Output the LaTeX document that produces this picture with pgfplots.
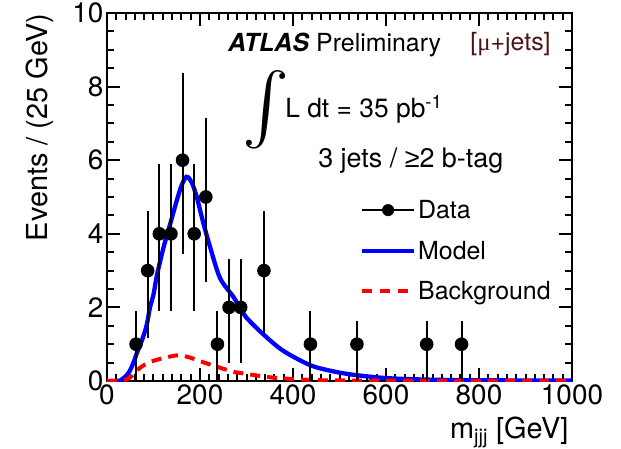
\documentclass[border=0pt]{standalone}
\usepackage{graphicx}
\usepackage{pgfplots}
\usepackage{pgfplotstable}
\pgfplotsset{compat=1.18}
\usepackage{fontspec}
\setmainfont{TeX Gyre Heros}
\newfontfamily\libsans{Liberation Sans}
\newfontfamily\libserif{Liberation Serif}
\definecolor{atlasblue}{RGB}{0,0,255}
\definecolor{atlasred}{RGB}{255,0,0}
\definecolor{chanbrown}{RGB}{77,20,20}

\pgfplotstableread{
x y ep em
62.5 1 0.9 1
87.5 3 1.63 1.82
112.5 4 1.9 2.1
137.5 4 1.9 2.1
162.5 6 2.37 2.55
187.5 4 1.9 2.1
212.5 5 2.16 2.32
237.5 1 0.9 1
262.5 2 1.31 1.5
287.5 2 1.31 1.5
337.5 3 1.63 1.73
437.5 1 0.9 1
537.5 1 0.63 1
687.5 1 0.63 1
762.5 1 0.63 1
}\datatab

\pgfplotstableread{
x y
0 0
20 0.0
28 0.01
42 0.15
50 0.3
57 0.5
64 0.75
75 1.1
85 1.5
92.5 2.0
100 2.35
107 2.85
121 3.6
135.5 4.25
150 4.9
160 5.3
171 5.55
182 5.4
193 5.0
207 4.3
221.5 3.65
243 2.8
271 2.3
286 2.0
300 1.72
336 1.27
379 0.82
437 0.43
480 0.28
523 0.18
580 0.1
630 0.06
700 0.035
800 0.02
1000 0.01
}\modeltab

\pgfplotstableread{
x y
0 0
30 0.01
49 0.09
71 0.36
90 0.5
114 0.6
153 0.7
180 0.63
200 0.54
243 0.36
272 0.25
286 0.22
358 0.09
437 0.03
500 0.015
700 0.005
1000 0.0
}\bkgtab

\begin{document}
\begin{tikzpicture}
\useasboundingbox (-107bp,-68bp) rectangle (514bp,381bp);
\begin{axis}[
  scale only axis, width=465bp, height=368bp,
  xmin=0, xmax=1000, ymin=0, ymax=10,
  xtick={0,200,...,1000}, ytick={0,2,...,10},
  minor x tick num=9, minor y tick num=3,
  tick align=inside, xtick pos=both, ytick pos=both,
  major tick length=13bp, minor tick length=7bp,
  axis line style={line width=2.5bp},
  every tick/.style={black,line width=2bp},
  ticklabel style={font=\fontsize{28}{33}\selectfont},
  /pgf/number format/assume math mode=true,
  /pgf/number format/1000 sep={},
  scaled ticks=false,
  clip mode=individual,
  xlabel={m\textsubscript{jjj} [GeV]},
  ylabel={Events / (25 GeV)},
  label style={font=\fontsize{29}{34}\selectfont},
  xlabel style={at={(axis description cs:1,-0.155)}, anchor=base east},
  ylabel style={at={(axis description cs:-0.127,1.008)}, anchor=base east},
  legend style={at={(rel axis cs:0.544,0.497)}, anchor=north west, draw=none, fill=none,
    inner sep=0pt, font=\fontsize{25}{30}\selectfont, row sep=17bp,
    /tikz/every even column/.append style={column sep=0bp}},
  legend cell align=left,
]
\addlegendimage{legend image code/.code={\draw[black,line width=2bp] (0bp,0bp) -- (52bp,0bp); \fill[black] (26bp,0bp) circle (5.8bp);}}
\addlegendentry{Data}
\addlegendimage{legend image code/.code={\draw[atlasblue,line width=4bp] (0bp,0bp) -- (52bp,0bp);}}
\addlegendentry{Model}
\addlegendimage{legend image code/.code={\draw[atlasred,line width=4bp,dash pattern=on 10bp off 8bp] (0bp,0bp) -- (52bp,0bp);}}
\addlegendentry{Background}

\addplot[atlasblue, line width=4.3bp, smooth, forget plot] table[x=x,y=y] {\modeltab};
\addplot[atlasred, line width=4bp, dash pattern=on 10bp off 7bp, smooth, forget plot] table[x=x,y=y] {\bkgtab};
\addplot[black, only marks, mark=*, mark size=5.8bp, line width=2bp, forget plot,
  error bars/.cd, y dir=both, y explicit, error mark=none,
  error bar style={line width=2bp}]
  table[x=x, y=y, y error plus=ep, y error minus=em] {\datatab};

\node[anchor=base west, inner sep=0pt, font=\fontsize{25}{30}\selectfont] at (axis cs:260,8.95) {\textbf{\textit{ATLAS}} Preliminary};
\node[anchor=base west, inner sep=0pt, text=chanbrown, font=\fontsize{25}{30}\selectfont] at (axis cs:781,8.97) {[{\libserif μ}+jets]};
\node[anchor=center, inner sep=0pt] at (axis cs:342,7.36) {\resizebox{!}{57bp}{$\int$}};
\node[anchor=base west, inner sep=0pt, font=\fontsize{26.5}{31}\selectfont] at (axis cs:383,7.17) {L dt = 35 pb\textsuperscript{-1}};
\node[anchor=base west, inner sep=0pt, font=\fontsize{27}{32}\selectfont] at (axis cs:454,5.79) {3 jets / {\libsans ≥}2 b-tag};
\end{axis}
\end{tikzpicture}
\end{document}
